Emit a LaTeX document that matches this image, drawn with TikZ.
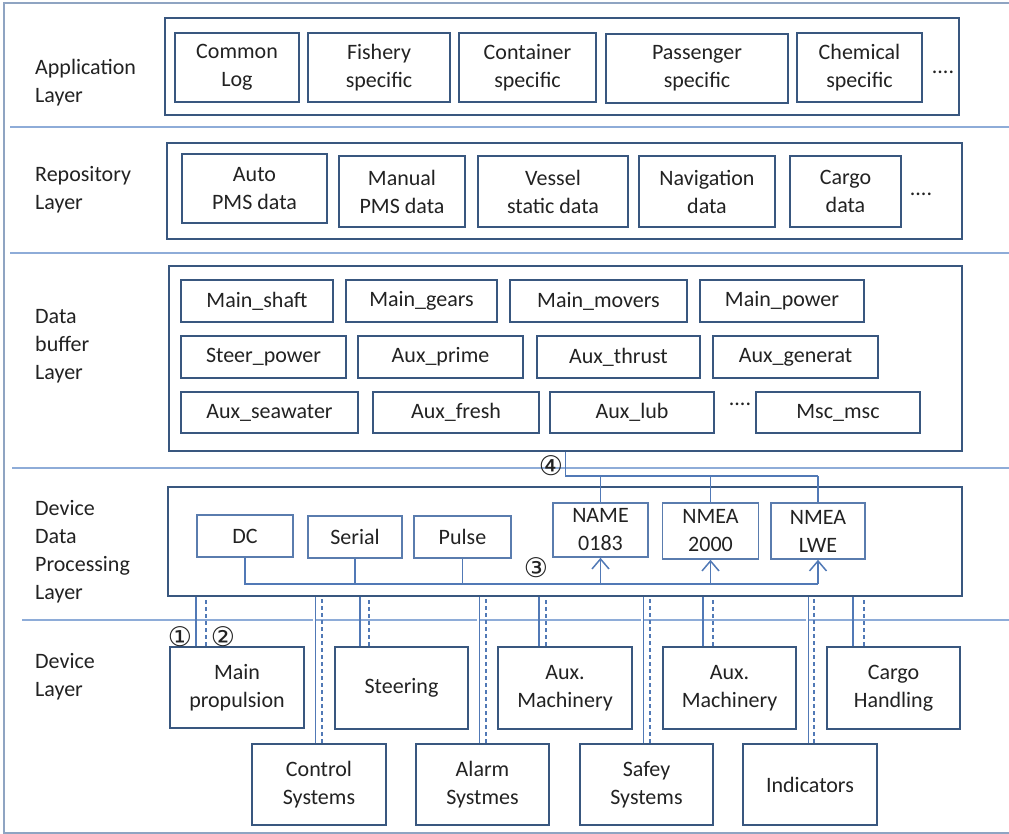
\documentclass[tikz,border=0pt]{standalone}
\usepackage{fontspec}
\setmainfont{Carlito}
\newfontfamily\djv{DejaVu Sans}
\usetikzlibrary{arrows.meta}
\definecolor{boxc}{HTML}{39577F}
\definecolor{thinc}{HTML}{5A7CAE}
\definecolor{sepc}{HTML}{8EACD8}
\definecolor{framec}{HTML}{8FA4C2}
\definecolor{connc}{HTML}{5179B6}
\definecolor{txtc}{HTML}{222222}
\begin{document}
\begin{tikzpicture}[x=1pt,y=-1pt,
  font=\fontsize{22}{28}\selectfont,
  layerbox/.style={draw=boxc,line width=2.8pt,inner sep=0pt},
  itembox/.style={draw=boxc,line width=2.8pt,inner sep=0pt,align=center,text=txtc},
  thinbox/.style={draw=thinc,line width=1.6pt,inner sep=0pt,align=center,text=txtc},
  lbl/.style={anchor=west,align=left,text=txtc,inner sep=0pt},
  dots/.style={text=txtc,inner sep=0pt},
  num/.style={text=txtc,inner sep=0pt,font=\djv\fontsize{27}{27}\selectfont},
  sepline/.style={draw=sepc,line width=2.4pt},
  frameline/.style={draw=framec,line width=1.8pt},
  conn/.style={draw=connc,line width=1.5pt},
  dconn/.style={draw=connc,line width=1.5pt,dash pattern=on 4pt off 3pt},
  wconn/.style={draw=connc,line width=0.9pt,double=white,double distance=1.2pt},
  arr/.style={conn,-{Straight Barb[length=10pt,width=17pt,line width=1.5pt]}}
]
\useasboundingbox (0,0) rectangle (1009,834);

% frame and separators
\draw[frameline] (1009,3) -- (4,3) -- (4,834);
\draw[frameline] (4,833) -- (1009,833);
\draw[sepline] (10,127) -- (1009,127);
\draw[sepline] (10,253) -- (1009,253);
\draw[sepline] (12,468) -- (1009,468);
\draw[sepline] (22,620) -- (1009,620);

% layer labels
\node[lbl] (lapp) at (35,83) {Application\\Layer};
\node[lbl] (lrep) at (35,190) {Repository\\Layer};
\node[lbl] (lbuf) at (35,346) {Data\\buffer\\Layer};
\node[lbl] (lddp) at (35,552) {Device\\Data\\Processing\\Layer};
\node[lbl] (ldev) at (35,677) {Device\\Layer};

% application layer
\node[layerbox,minimum width=794pt,minimum height=97pt] (app) at (562,66.5) {};
\node[itembox,minimum width=124pt,minimum height=69pt] (clog) at (237,67.5) {Common\\Log};
\node[itembox,minimum width=142pt,minimum height=69pt] (fish) at (379,67.5) {Fishery\\specific};
\node[itembox,minimum width=137pt,minimum height=69pt] (cont) at (527.5,67.5) {Container\\specific};
\node[itembox,minimum width=182pt,minimum height=69pt] (pass) at (697,68.5) {Passenger\\specific};
\node[itembox,minimum width=125pt,minimum height=69pt] (chem) at (859.5,67.5) {Chemical\\specific};
\node[dots] (appdots) at (943,72) {....};

% repository layer
\node[layerbox,minimum width=795pt,minimum height=96pt] (rep) at (564.5,191) {};
\node[itembox,minimum width=145pt,minimum height=69pt] (auto) at (254.5,188.5) {Auto\\PMS data};
\node[itembox,minimum width=126pt,minimum height=71pt] (manu) at (402,191.5) {Manual\\PMS data};
\node[itembox,minimum width=150pt,minimum height=71pt] (vess) at (553,191.5) {Vessel\\static data};
\node[itembox,minimum width=136pt,minimum height=71pt] (navi) at (707,191.5) {Navigation\\data};
\node[itembox,minimum width=111pt,minimum height=71pt] (carg) at (845.5,191.5) {Cargo\\data};
\node[dots] (repdots) at (921,194) {....};

% data buffer layer
\node[layerbox,minimum width=793pt,minimum height=185pt] (buf) at (565.5,358.5) {};
\node[itembox,minimum width=152pt,minimum height=42pt] (b1) at (257,301) {Main\_shaft};
\node[itembox,minimum width=151pt,minimum height=42pt] (b2) at (421.5,301) {Main\_gears};
\node[itembox,minimum width=177pt,minimum height=42pt] (b3) at (598.5,301) {Main\_movers};
\node[itembox,minimum width=164pt,minimum height=42pt] (b4) at (782,301) {Main\_power};
\node[itembox,minimum width=165pt,minimum height=42pt] (b5) at (263.5,357) {Steer\_power};
\node[itembox,minimum width=165pt,minimum height=42pt] (b6) at (440.5,357) {Aux\_prime};
\node[itembox,minimum width=163pt,minimum height=42pt] (b7) at (618.5,357) {Aux\_thrust};
\node[itembox,minimum width=165pt,minimum height=42pt] (b8) at (795.5,357) {Aux\_generat};
\node[itembox,minimum width=177pt,minimum height=41pt] (b9) at (269.5,412.5) {Aux\_seawater};
\node[itembox,minimum width=166pt,minimum height=41pt] (b10) at (456,412.5) {Aux\_fresh};
\node[itembox,minimum width=164pt,minimum height=41pt] (b11) at (632,412.5) {Aux\_lub};
\node[itembox,minimum width=164pt,minimum height=41pt] (b12) at (838,412.5) {Msc\_msc};
\node[dots] (bufdots) at (740,404) {....};

% device data processing layer
\node[layerbox,minimum width=794pt,minimum height=109pt] (ddp) at (565,541.5) {};
\node[thinbox,minimum width=96pt,minimum height=42pt] (dc) at (245,536) {DC};
\node[thinbox,minimum width=94pt,minimum height=42pt] (serial) at (355,537) {Serial};
\node[thinbox,minimum width=97pt,minimum height=42pt] (pulse) at (462.5,537) {Pulse};
\node[thinbox,minimum width=95pt,minimum height=54pt] (n0183) at (600.5,530) {NAME\\0183};
\node[thinbox,minimum width=96pt,minimum height=56pt] (n2000) at (710.5,531) {NMEA\\2000};
\node[thinbox,minimum width=94pt,minimum height=56pt] (nlwe) at (818,531) {NMEA\\LWE};

\coordinate (ybus3) at (0,584);
\coordinate (ybus4) at (0,476);
% bus 3
\draw[conn] (dc.south) |- (nlwe.south |- ybus3);
\draw[conn] (serial.south) -- (serial.south |- ybus3);
\draw[conn] (pulse.south) -- (pulse.south |- ybus3);
\draw[arr] (n0183.south |- ybus3) -- (n0183.south);
\draw[arr] (n2000.south |- ybus3) -- (n2000.south);
\draw[arr] (nlwe.south |- ybus3) -- (nlwe.south);
% bus 4
\draw[conn] (buf.south) |- (nlwe.north |- ybus4);
\draw[conn] (n0183.north |- ybus4) -- (n0183.north);
\draw[conn] (n2000.north |- ybus4) -- (n2000.north);
\draw[conn] (nlwe.north |- ybus4) -- (nlwe.north);

\node[num] (c3) at (536,568) {③};
\node[num] (c4) at (551,466) {④};

% device layer
\node[itembox,minimum width=134pt,minimum height=81pt] (mainp) at (237,687.5) {Main\\propulsion};
\node[itembox,minimum width=133pt,minimum height=82pt] (steer) at (401.5,688) {Steering};
\node[itembox,minimum width=134pt,minimum height=82pt] (auxa) at (565,688) {Aux.\\Machinery};
\node[itembox,minimum width=133pt,minimum height=82pt] (auxb) at (729.5,688) {Aux.\\Machinery};
\node[itembox,minimum width=133pt,minimum height=82pt] (cargo) at (893.5,688) {Cargo\\Handling};
\node[itembox,minimum width=134pt,minimum height=81pt] (ctrl) at (319,784.5) {Control\\Systems};
\node[itembox,minimum width=133pt,minimum height=81pt] (alarm) at (482.5,784.5) {Alarm\\Systmes};
\node[itembox,minimum width=133pt,minimum height=81pt] (safe) at (646.5,784.5) {Safey\\Systems};
\node[itembox,minimum width=134pt,minimum height=81pt] (ind) at (810,784.5) {Indicators};

% device connectors
\draw[conn] ([xshift=-41pt]mainp.north) -- ([xshift=-41pt]mainp.north |- ddp.south);
\draw[dconn] ([xshift=-31pt]mainp.north) -- ([xshift=-31pt]mainp.north |- ddp.south);
\draw[wconn] ([xshift=-5pt]ctrl.north) -- ([xshift=-5pt]ctrl.north |- ddp.south);
\draw[dconn] ([xshift=3pt]ctrl.north) -- ([xshift=3pt]ctrl.north |- ddp.south);
\draw[conn] ([xshift=-41.5pt]steer.north) -- ([xshift=-41.5pt]steer.north |- ddp.south);
\draw[dconn] ([xshift=-32.5pt]steer.north) -- ([xshift=-32.5pt]steer.north |- ddp.south);
\draw[wconn] ([xshift=-4.5pt]alarm.north) -- ([xshift=-4.5pt]alarm.north |- ddp.south);
\draw[dconn] ([xshift=3.5pt]alarm.north) -- ([xshift=3.5pt]alarm.north |- ddp.south);
\draw[conn] ([xshift=-26pt]auxa.north) -- ([xshift=-26pt]auxa.north |- ddp.south);
\draw[dconn] ([xshift=-19pt]auxa.north) -- ([xshift=-19pt]auxa.north |- ddp.south);
\draw[wconn] ([xshift=-4.5pt]safe.north) -- ([xshift=-4.5pt]safe.north |- ddp.south);
\draw[dconn] ([xshift=3.5pt]safe.north) -- ([xshift=3.5pt]safe.north |- ddp.south);
\draw[conn] ([xshift=-26.5pt]auxb.north) -- ([xshift=-26.5pt]auxb.north |- ddp.south);
\draw[dconn] ([xshift=-16.5pt]auxb.north) -- ([xshift=-16.5pt]auxb.north |- ddp.south);
\draw[wconn] ([xshift=-3pt]ind.north) -- ([xshift=-3pt]ind.north |- ddp.south);
\draw[dconn] ([xshift=4pt]ind.north) -- ([xshift=4pt]ind.north |- ddp.south);
\draw[conn] ([xshift=-40.5pt]cargo.north) -- ([xshift=-40.5pt]cargo.north |- ddp.south);
\draw[dconn] ([xshift=-29.5pt]cargo.north) -- ([xshift=-29.5pt]cargo.north |- ddp.south);

\node[num] (c1) at (180,637) {①};
\node[num] (c2) at (223,637) {②};
\end{tikzpicture}
\end{document}
